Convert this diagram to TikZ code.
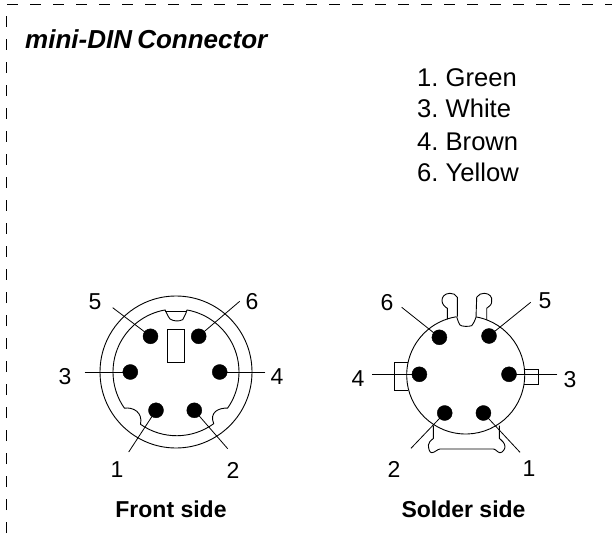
\documentclass[tikz,border=0pt]{standalone}
\usepackage{fontspec}
\setmainfont{Liberation Sans}
\frenchspacing
\tikzset{
  x=1pt,y=1pt,
  pinhole/.style={circle,fill=black,draw=black,inner sep=0pt,minimum size=15pt},
  pinlbl/.style={font=\fontsize{23}{23}\selectfont,inner sep=0pt},
  capt/.style={font=\fontsize{23}{23}\selectfont\bfseries,inner sep=0pt},
  colour/.style={font=\fontsize{25.6}{26}\selectfont,inner sep=0pt,anchor=base west},
  wire/.style={line width=0.8pt},
  outl/.style={line width=0.9pt}
}
\begin{document}
\begin{tikzpicture}
\useasboundingbox (0,0) rectangle (612,533);
\draw[line width=1pt,dash pattern=on 11pt off 12pt] (6,0) -- (6,528) -- (612,528);
\node[inner sep=0pt,anchor=base west,font=\fontsize{26}{26}\selectfont\bfseries\itshape] (title) at (25,484) {mini-DIN\kern-2pt{} Connector};
\node[colour] (green) at (417,446) {1. Green};
\node[colour] (white) at (417,415) {3. White};
\node[colour] (brown) at (417,382) {4. Brown};
\node[colour] (yellow) at (417,351) {6. Yellow};
\node[capt] (front) at (171,24) {Front side};
\node[capt] (solder) at (463.5,24) {Solder side};
%front side
\begin{scope}[shift={(176,161)}]
\draw[outl] (0,0) circle (76);
\draw[outl] (80:63) arc (80:-35:63) .. controls (43,-35.7) and (33,-40) .. (37.7,-51.7)
  arc (-54:-125:63) .. controls (-33,-40) and (-43,-35) .. (215:63) arc (215:100:63)
  .. controls (-8,56) and (-7,54) .. (-6,53) .. controls (-2,50.5) and (3,50.5) .. (6.7,52.3) .. controls (8,55) and (10,58) .. (80:63);
\draw[outl] (-10.9,61) -- (10.9,61);
\draw[outl] (-8.5,43) rectangle (8,9.7);
\node[pinhole] (f5) at (-25.5,35.7) {};
\node[pinhole] (f6) at (22.7,35.7) {};
\node[pinhole] (f3) at (-45.7,0) {};
\node[pinhole] (f4) at (43.7,0) {};
\node[pinhole] (f1) at (-20,-38.3) {};
\node[pinhole] (f2) at (18.3,-38.3) {};
\coordinate (fe5) at (-63.3,64.3);
\coordinate (fe6) at (63.7,70.7);
\coordinate (fe3) at (-91.3,0);
\coordinate (fe4) at (89.3,0);
\coordinate (fe1) at (-47.3,-80);
\coordinate (fe2) at (51.7,-76.7);
\foreach \n in {1,...,6} \draw[wire] (fe\n) -- (f\n.center);
\end{scope}
\node[pinlbl] (fl5) at (95,231) {5};
\node[pinlbl] (fl6) at (252,231) {6};
\node[pinlbl] (fl3) at (65,156) {3};
\node[pinlbl] (fl4) at (277,156) {4};
\node[pinlbl] (fl1) at (117,63) {1};
\node[pinlbl] (fl2) at (233,63) {2};
%solder side
\begin{scope}[shift={(465.7,158)}]
\draw[outl] (80:59) arc (80:-261:59);
\draw[outl] (-9,58.3) .. controls (-7.5,53) and (-6.5,51) .. (-5.7,50) .. controls (-4,48.3) and (3,48.3) .. (6,49.3) .. controls (7.5,51) and (9,54) .. (10.3,57.7);
\draw[outl] (-8.3,58.3) -- (-8.3,77.7) .. controls (-10,80.5) and (-13,82) .. (-16,81.7) .. controls (-21,81.5) and (-24,78) .. (-23.7,74.3) .. controls (-23.7,71) and (-21,68) .. (-18.3,66.7) -- (-18.3,55.7);
\draw[outl] (10.3,57.7) -- (11,77.7) .. controls (12.7,80.5) and (15.7,82) .. (18.7,81.7) .. controls (23.7,81.5) and (26.7,78) .. (26,74.3) .. controls (26.4,71) and (23.7,68) .. (21,66.7) -- (21,55);
\draw[outl] (-57.3,12.7) -- (-71.7,12.7) -- (-71.7,-15.3) -- (-57.3,-15.3);
\draw[outl] (58.7,5.7) -- (73,5.7) -- (73,-9) -- (58.7,-9);
\draw[outl] (-32.3,-50.7) -- (-32.3,-63.3) .. controls (-35,-65.5) and (-37.3,-67.5) .. (-37.3,-70)
  .. controls (-37.3,-74) and (-36,-77.7) .. (-34,-77.7) .. controls (-31,-77.7) and (-28,-74) .. (-25.7,-74)
  -- (27.7,-74) .. controls (30,-74) and (32,-77.7) .. (34.3,-77.7) .. controls (37,-77.7) and (39.3,-74) .. (39.3,-71.7)
  .. controls (39.3,-68) and (36,-65.5) .. (33.7,-63.3) -- (33.7,-50.7);
\node[pinhole] (s6) at (-26.3,37.7) {};
\node[pinhole] (s5) at (23.3,39) {};
\node[pinhole] (s4) at (-46.3,0.7) {};
\node[pinhole] (s3) at (43.3,0.7) {};
\node[pinhole] (s2) at (-21,-38) {};
\node[pinhole] (s1) at (17.7,-38) {};
\coordinate (se6) at (-64,67.7);
\coordinate (se5) at (65,72.7);
\coordinate (se4) at (-93.3,0.7);
\coordinate (se3) at (91.7,0.7);
\coordinate (se2) at (-54.7,-73.3);
\coordinate (se1) at (54.3,-77.3);
\foreach \n in {1,...,6} \draw[wire] (se\n) -- (s\n.center);
\end{scope}
\node[pinlbl] (sl6) at (387,230) {6};
\node[pinlbl] (sl5) at (545,232) {5};
\node[pinlbl] (sl4) at (358,154) {4};
\node[pinlbl] (sl3) at (570,153) {3};
\node[pinlbl] (sl2) at (394,64) {2};
\node[pinlbl] (sl1) at (529,64) {1};
\end{tikzpicture}
\end{document}
